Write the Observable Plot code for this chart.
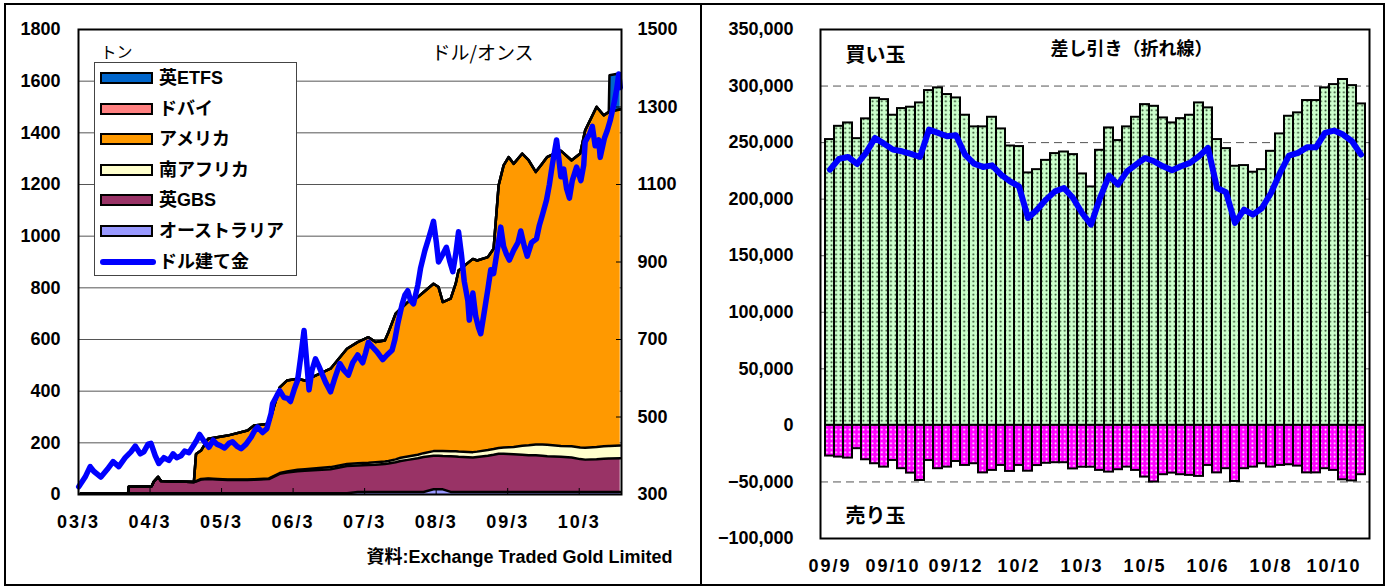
<!DOCTYPE html>
<html><head><meta charset="utf-8">
<script src="https://cdn.jsdelivr.net/npm/d3@7"></script>
<script src="https://cdn.jsdelivr.net/npm/@observablehq/plot@0.6"></script>
<style>
body{margin:0;background:#fff;}
#wrap{position:relative;width:1387px;height:587px;overflow:hidden;font-family:"Liberation Sans","Noto Sans CJK JP",sans-serif;}
.abs{position:absolute;}
</style></head><body><div id="wrap"></div>
<script>
// ---------- LEFT PANEL DATA (tons, decimal years) ----------
const etfT = [2003.20, 2003.86, 2003.87, 2004.19, 2004.22, 2004.28, 2004.32, 2004.78, 2004.81, 2004.88,
  2004.98, 2005.25, 2005.53, 2005.62, 2005.83, 2005.98, 2006.08, 2006.23, 2006.33, 2006.69,
  2006.92, 2007.07, 2007.22, 2007.32, 2007.45, 2007.50, 2007.60, 2007.67, 2007.77, 2007.91,
  2007.99, 2008.13, 2008.20, 2008.26, 2008.37, 2008.44, 2008.48, 2008.68, 2008.74, 2008.89,
  2008.97, 2009.04, 2009.11, 2009.18, 2009.25, 2009.37, 2009.46, 2009.56, 2009.65, 2009.72,
  2009.91, 2010.06, 2010.18, 2010.25, 2010.41, 2010.51, 2010.58, 2010.59, 2010.74];
const aus = [4,5,5,5,5,5,5,5,5,5, 5,5,5,5,5,5,5,5,5,5, 5,10,10,10,10,10,10,10,10,10,
  10,20,20,20,10,10,10,10,10,10, 10,10,10,10,10,10,10,10,10,10, 10,10,10,10,10,10,10,10,10];
const gbs = [0,0,25,27,45,63,47,43,45,53, 55,51,51,52,55,75,80,85,87,93, 105,102,104,105,108,110,115,120,124,130,
  135,130,130,129,138,137,136,133,135,140, 144,148,148,147,146,144,142,142,140,138, 136,133,127,125,126,128,129,129,130];
const sa = [0,0,0,0,0,0,0,0,2,2, 2,2,2,2,2,3,4,6,6,8, 8,9,9,10,10,10,11,12,13,14,
  15,18,18,19,19,20,20,21,21,22, 22,22,24,26,28,35,39,42,44,45, 42,44,45,46,48,49,49,49,50];
const usa = [0,0,0,0,0,0,0,0,105,110, 154,170,190,208,212,332,352,352,343,381, 446,469,486,465,468,498,564,577,598,610,
  623,648,635,577,591,649,701,748,740,747, 775,1016,1092,1123,1096,1130,1102,1054,1086,1113, 1142,1106,1137,1228,1316,1280,1292,1294,1300];
const dubai = [0,0,0,0,0,0,0,0,0,0, 0,0,0,0,0,0,0,0,0,0, 0,0,0,0,0,0,0,0,0,0,
  0,0,0,0,0,0,0,0,0,0, 0,0,0,0,0,1,1,1,1,1, 1,1,1,1,1,1,1,1,1];
const etfs = [0,0,0,0,0,0,0,0,0,0, 0,0,0,0,0,0,0,0,0,0, 0,0,0,0,0,0,0,0,0,0,
  0,0,0,0,0,0,0,0,0,0, 0,0,0,0,0,0,0,0,0,0, 0,0,0,0,0,0,0,140,140];

const seriesNames = ["オーストラリア","英GBS","南アフリカ","アメリカ","ドバイ","英ETFS"];
const seriesColors = ["#9999ff","#993366","#ffffcc","#ff9900","#ff8080","#0066cc"];

// Gold price (USD/oz)
const goldT = [2003.17, 2003.26, 2003.33, 2003.38, 2003.48, 2003.57, 2003.65, 2003.73, 2003.82, 2003.90,
 2003.96, 2004.03, 2004.08, 2004.14, 2004.18, 2004.24, 2004.29, 2004.36, 2004.43, 2004.49,
 2004.54, 2004.60, 2004.65, 2004.71, 2004.77, 2004.82, 2004.86, 2004.92, 2004.99, 2005.05,
 2005.10, 2005.16, 2005.21, 2005.27, 2005.32, 2005.38, 2005.44, 2005.51, 2005.58, 2005.63,
 2005.67, 2005.74, 2005.80, 2005.86, 2005.88, 2005.94, 2005.98, 2006.04, 2006.09, 2006.13,
 2006.19, 2006.23, 2006.27, 2006.32, 2006.34, 2006.39, 2006.43, 2006.48, 2006.53, 2006.57,
 2006.62, 2006.69, 2006.75, 2006.82, 2006.88, 2006.94, 2007.00, 2007.07, 2007.14, 2007.18,
 2007.22, 2007.28, 2007.34, 2007.42, 2007.48, 2007.55, 2007.59, 2007.63, 2007.69, 2007.73,
 2007.77, 2007.81, 2007.85, 2007.91, 2007.95, 2008.01, 2008.06, 2008.10, 2008.13, 2008.17,
 2008.20, 2008.26, 2008.31, 2008.36, 2008.40, 2008.44, 2008.48, 2008.52, 2008.56, 2008.61,
 2008.63, 2008.68, 2008.72, 2008.76, 2008.79, 2008.83, 2008.89, 2008.93, 2008.97, 2009.03,
 2009.07, 2009.11, 2009.15, 2009.19, 2009.25, 2009.31, 2009.35, 2009.40, 2009.44, 2009.50,
 2009.57, 2009.61, 2009.65, 2009.71, 2009.75, 2009.79, 2009.85, 2009.88, 2009.91, 2009.95,
 2009.99, 2010.03, 2010.07, 2010.13, 2010.19, 2010.23, 2010.25, 2010.31, 2010.35, 2010.39,
 2010.44, 2010.46, 2010.52, 2010.56, 2010.60, 2010.66, 2010.69, 2010.72, 2010.74];
const goldP = [320, 345, 372, 360, 345, 365, 385, 372, 395, 410,
 425, 405, 410, 430, 432, 400, 380, 395, 388, 405,
 395, 400, 412, 408, 425, 440, 455, 438, 422, 440,
 430, 425, 420, 432, 436, 425, 418, 430, 448, 465,
 474, 460, 470, 510, 534, 555, 568, 550, 548, 540,
 575, 595, 650, 723, 680, 570, 620, 650, 630, 612,
 590, 565, 600, 638, 620, 608, 640, 660, 640, 665,
 693, 680, 668, 648, 660, 672, 700, 740, 790, 815,
 826, 800, 792, 840, 885, 930, 960, 985, 1005, 950,
 900, 920, 938, 900, 875, 920, 978, 920, 850, 800,
 750, 820, 760, 730, 715, 760, 830, 880, 870, 940,
 990, 940, 920, 905, 930, 950, 980, 940, 915, 950,
 960, 995, 1020, 1060, 1100, 1150, 1215, 1170, 1120, 1140,
 1090, 1065, 1110, 1145, 1110, 1150, 1210, 1230, 1250, 1200,
 1215, 1170, 1220, 1240, 1265, 1315, 1345, 1385, 1350];

const leftYTicks = [0,200,400,600,800,1000,1200,1400,1600,1800];
const priceTicks = [300,500,700,900,1100,1300,1500];
const xTickT = [2003.167,2004.167,2005.167,2006.167,2007.167,2008.167,2009.167,2010.167];
const xTickLabels = ["03/3","04/3","05/3","06/3","07/3","08/3","09/3","10/3"];

// ---------- RIGHT PANEL DATA (contracts, weekly) ----------
const longPos = [252700, 264400, 267400, 253500, 271000, 289200, 288000, 274200, 280100, 281300,
 285100, 296000, 298400, 292500, 289500, 274200, 263900, 263900, 272400, 262100,
 247000, 246500, 223200, 226100, 234300, 240300, 241700, 239400, 222300, 210800,
 243200, 263000, 251800, 263900, 272400, 283600, 282100, 271800, 267400, 271200,
 274200, 285100, 280700, 252700, 244700, 229100, 229700, 223800, 226100, 242300,
 257700, 273300, 276300, 287200, 287200, 298400, 301300, 305800, 300400, 284200];
const shortPos = [-27100, -28000, -28900, -20600, -30400, -33900, -36900, -31000, -38300, -42200,
 -48700, -31000, -38300, -36900, -31900, -35400, -33900, -42000, -39800, -35400,
 -40700, -35400, -40500, -35500, -33500, -33000, -33000, -38500, -37000, -37000,
 -39800, -41300, -39200, -36900, -39800, -45700, -50100, -43600, -42200, -43600,
 -44200, -45100, -35400, -42000, -38300, -49600, -38300, -36900, -33900, -36900,
 -35400, -34800, -36000, -42000, -42000, -38300, -39800, -48100, -49100, -43600];
const netPos = [226100, 235600, 237300, 231100, 240900, 254100, 249100, 243800, 242300, 240000,
 237300, 261500, 258600, 255600, 256500, 239400, 231400, 228500, 229900, 221700,
 215800, 211300, 183400, 190700, 199600, 206900, 209900, 201000, 187800, 177500,
 201000, 220800, 212800, 224600, 230500, 236400, 233500, 229100, 225500, 229100,
 232100, 237900, 245300, 209900, 206100, 179000, 190700, 186300, 192200, 205500,
 223200, 238500, 240900, 245800, 245800, 258600, 260600, 257100, 251200, 239400];
const weekIdx = longPos.map((_, i) => i);
const rightXTickIdx = [0,7,14,21,28,35,42,49,56];
const rightXTickLabels = ["09/9","09/10","09/12","10/2","10/3","10/5","10/6","10/8","10/10"];
const rightYTicks = [-100000,-50000,0,50000,100000,150000,200000,250000,300000,350000];

// ---------- BUILD ----------
const FONT = "'Liberation Sans','Noto Sans CJK JP',sans-serif";
const JFONT = "'Noto Sans CJK JP','Liberation Sans',sans-serif";
const wrap = document.getElementById("wrap");

const etfRows = [];
const seriesVals = [aus, gbs, sa, usa, dubai, etfs];
etfT.forEach((t, i) => seriesNames.forEach((s, k) => etfRows.push({t, s, v: seriesVals[k][i]})));
const goldRows = goldT.map((t, i) => ({t, p: goldP[i]}));
const toTons = p => (p - 300) * 1800 / 1200;
const xLabMap = new Map(xTickT.map((t, i) => [t, xTickLabels[i]]));

const left = Plot.plot({
  width: 700, height: 587,
  marginLeft: 78, marginRight: 79, marginTop: 29, marginBottom: 93,
  style: {fontFamily: FONT, fontSize: "18px", fontWeight: "bold", color: "#000", background: "transparent", overflow: "visible"},
  x: {domain: [2003.167, 2010.758]},
  y: {domain: [0, 1800]},
  color: {domain: seriesNames, range: seriesColors},
  marks: [
    Plot.ruleY(leftYTicks.filter(d => d > 0 && d < 1800), {stroke: "#555", strokeWidth: 1}),
    Plot.areaY(etfRows, {x: "t", y: "v", fill: "s", z: "s", order: seriesNames, curve: "linear"}),
    Plot.line(etfRows, Plot.stackY2({x: "t", y: "v", z: "s", order: seriesNames, stroke: "#000", strokeWidth: 2.5, curve: "linear"})),
    Plot.line(goldRows, {x: "t", y: d => toTons(d.p), stroke: "#0000ff", strokeWidth: 5.5, strokeLinejoin: "round", strokeLinecap: "round"}),
    Plot.frame({stroke: "#000", strokeWidth: 2}),
    Plot.axisY({ticks: leftYTicks, tickSize: 0, tickPadding: 18, label: null, tickFormat: d => String(d)}),
    Plot.axisY({anchor: "right", ticks: priceTicks.map(toTons), tickSize: 0, tickPadding: 16, label: null, tickFormat: d => String(Math.round(d * 1200 / 1800 + 300))}),
    Plot.axisY({anchor: "right", ticks: priceTicks.map(toTons), tickSize: 6, dx: -6, label: null, tickFormat: () => ""}),
    Plot.axisX({ticks: xTickT, tickSize: 0, tickPadding: 21, label: null, tickFormat: d => xLabMap.get(d)}),
    Plot.axisX({ticks: xTickT, tickSize: 6, dy: -6, label: null, tickFormat: () => ""}),
    Plot.text(["トン"], {text: d => d, frameAnchor: "top-left", dx: 22, dy: 17, textAnchor: "start", fontSize: 16, fontWeight: "normal", fontFamily: JFONT}),
    Plot.text(["ドル/オンス"], {text: d => d, frameAnchor: "top-left", dx: 353, dy: 17, textAnchor: "start", fontSize: 19, fontWeight: "normal", fontFamily: JFONT}),
    Plot.text(["資料:Exchange Traded Gold Limited"], {text: d => d, frameAnchor: "bottom-right", dx: 51, dy: 68, textAnchor: "end", fontSize: 18, fontWeight: "bold"})
  ]
});
left.querySelectorAll('[aria-label="x-axis tick label"] text').forEach(t => t.style.letterSpacing = "2px");
const leftDiv = document.createElement("div");
leftDiv.className = "abs"; leftDiv.style.left = "0px"; leftDiv.style.top = "0px";
leftDiv.appendChild(left);
wrap.appendChild(leftDiv);

// legend (HTML overlay inside left plot)
const legend = document.createElement("div");
legend.className = "abs";
Object.assign(legend.style, {left: "94px", top: "62px", width: "203px", height: "214px", border: "1px solid #444", background: "#fff", boxSizing: "border-box"});
const legItems = seriesNames.map((s, k) => ({name: s, color: seriesColors[k]})).reverse();
legItems.push({name: "ドル建て金", line: "#0000ff"});
legItems.forEach((it, k) => {
  const cy = 15 + k * 30.6;
  const sw = document.createElement("div");
  sw.className = "abs";
  if (it.line) {
    Object.assign(sw.style, {left: "5px", top: (cy - 3) + "px", width: "56px", height: "6px", background: it.line, borderRadius: "3px"});
  } else {
    Object.assign(sw.style, {left: "5px", top: (cy - 6) + "px", width: "53px", height: "12px", background: it.color, border: "2px solid #000", boxSizing: "border-box"});
  }
  legend.appendChild(sw);
  const tx = document.createElement("div");
  tx.className = "abs";
  tx.textContent = it.name;
  Object.assign(tx.style, {left: "64px", top: (cy - 11) + "px", height: "22px", lineHeight: "22px", fontSize: "18px", fontWeight: "bold", whiteSpace: "nowrap"});
  legend.appendChild(tx);
});
wrap.appendChild(legend);

// right panel
const rightRows = weekIdx.map(i => ({i, long: longPos[i], short: shortPos[i], net: netPos[i]}));
const rLabMap = new Map(rightXTickIdx.map((v, i) => [v, rightXTickLabels[i]]));
const right = Plot.plot({
  width: 687, height: 587,
  marginLeft: 120, marginRight: 18, marginTop: 29, marginBottom: 49,
  style: {fontFamily: FONT, fontSize: "18px", fontWeight: "bold", color: "#000", background: "transparent", overflow: "visible"},
  x: {type: "band", domain: weekIdx, padding: 0},
  y: {domain: [-100000, 350000]},
  marks: [
    Plot.ruleY(rightYTicks.filter(d => d !== 0 && d > -100000 && d < 350000), {stroke: "#555", strokeWidth: 1, strokeDasharray: "8,5"}),
    Plot.barY(rightRows, {x: "i", y: "long", fill: "url(#pg)", stroke: "#000", strokeWidth: 2}),
    Plot.barY(rightRows, {x: "i", y: "short", fill: "url(#pm)", stroke: "#000", strokeWidth: 2}),
    Plot.line(rightRows, {x: "i", y: "net", stroke: "#0000ff", strokeWidth: 6, strokeLinejoin: "round", strokeLinecap: "round"}),
    Plot.frame({stroke: "#000", strokeWidth: 2}),
    Plot.axisY({ticks: rightYTicks, tickSize: 0, tickPadding: 27, label: null, tickFormat: d3.format(",")}),
    Plot.axisX({ticks: rightXTickIdx, tickSize: 0, tickPadding: 21, label: null, tickFormat: d => rLabMap.get(d)}),
    Plot.text(["買い玉"], {text: d => d, frameAnchor: "top-left", dx: 25, dy: 18, textAnchor: "start", fontSize: 20, fontWeight: "bold", fontFamily: JFONT}),
    Plot.text(["差し引き（折れ線）"], {text: d => d, frameAnchor: "top-left", dx: 230, dy: 13, textAnchor: "start", fontSize: 18, fontWeight: "bold", fontFamily: JFONT}),
    Plot.text(["売り玉"], {text: d => d, frameAnchor: "bottom-left", dx: 25, dy: -16, textAnchor: "start", fontSize: 20, fontWeight: "bold", fontFamily: JFONT})
  ]
});
right.querySelectorAll('[aria-label="x-axis tick label"] text').forEach(t => t.style.letterSpacing = "2px");
const defs = document.createElementNS("http://www.w3.org/2000/svg", "defs");
defs.innerHTML = `
<pattern id="pg" x="120" y="0" width="4.575" height="4.5" patternUnits="userSpaceOnUse">
  <rect width="4.575" height="4.5" fill="#ccffcc"/>
  <circle cx="2.3" cy="2.25" r="1" fill="#1f3a1f"/>
</pattern>
<pattern id="pm" x="120" y="0" width="4.575" height="4.5" patternUnits="userSpaceOnUse">
  <rect width="4.575" height="4.5" fill="#ff00ff"/>
  <circle cx="2.3" cy="2.25" r="1" fill="#ffffff"/>
</pattern>`;
right.insertBefore(defs, right.firstChild);
const rightDiv = document.createElement("div");
rightDiv.className = "abs"; rightDiv.style.left = "700px"; rightDiv.style.top = "0px";
rightDiv.appendChild(right);
wrap.appendChild(rightDiv);

// outer panel borders
const outer = document.createElement("div");
outer.className = "abs";
Object.assign(outer.style, {left: "4px", top: "3px", width: "1381px", height: "583px", border: "2px solid #000", boxSizing: "border-box", pointerEvents: "none"});
wrap.appendChild(outer);
const divider = document.createElement("div");
divider.className = "abs";
Object.assign(divider.style, {left: "700px", top: "3px", width: "2px", height: "583px", background: "#000"});
wrap.appendChild(divider);
</script></body></html>
